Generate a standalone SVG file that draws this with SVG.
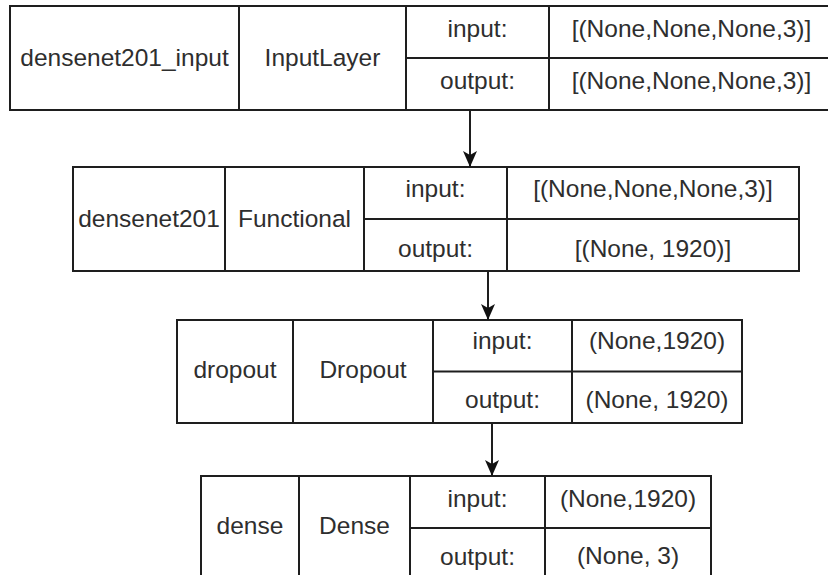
<svg xmlns="http://www.w3.org/2000/svg" width="828" height="575" viewBox="0 0 828 575">
  <style>
    .cell { fill: #ffffff; stroke: #1e1e1e; stroke-width: 2; }
    .div { stroke: #1e1e1e; stroke-width: 2; fill: none; }
    .lbl { font-family: "Liberation Sans", Arial, sans-serif; font-size: 24.5px; fill: #2e2e2e; text-anchor: middle; }
    .edge { stroke: #1e1e1e; stroke-width: 2; fill: none; marker-end: url(#arrow); }
  </style>
  <defs>
    <marker id="arrow" viewBox="0 0 16 14" refX="15" refY="7" markerWidth="16" markerHeight="14" markerUnits="userSpaceOnUse" orient="auto">
      <path d="M0,0 L16,7 L0,14 L4,7 Z" fill="#111111"/>
    </marker>
  </defs>
  <rect width="828" height="575" fill="#ffffff"/>

  <!-- input layer -->
  <g id="densenet201_input">
    <rect class="cell" x="10" y="6" width="830" height="104"/>
    <path class="div" d="M239,6 V110 M406,6 V110 M549,6 V110 M406,58 H840"/>
    <text class="lbl" x="124.5" y="66">densenet201_input</text>
    <text class="lbl" x="322.5" y="66">InputLayer</text>
    <text class="lbl" x="477.5" y="37">input:</text>
    <text class="lbl" x="477.5" y="89">output:</text>
    <text class="lbl" x="691.5" y="37">[(None,None,None,3)]</text>
    <text class="lbl" x="691.5" y="89">[(None,None,None,3)]</text>
  </g>

  <!-- backbone -->
  <g id="densenet201">
    <rect class="cell" x="73" y="167" width="726" height="104"/>
    <path class="div" d="M225,167 V271 M364,167 V271 M507,167 V271 M364,219 H799"/>
    <text class="lbl" x="149" y="227">densenet201</text>
    <text class="lbl" x="294.5" y="227">Functional</text>
    <text class="lbl" x="435.5" y="197">input:</text>
    <text class="lbl" x="435.5" y="257">output:</text>
    <text class="lbl" x="653" y="197">[(None,None,None,3)]</text>
    <text class="lbl" x="653" y="257">[(None, 1920)]</text>
  </g>

  <!-- dropout -->
  <g id="dropout">
    <rect class="cell" x="177" y="320" width="565" height="103"/>
    <path class="div" d="M293,320 V423 M433,320 V423 M572,320 V423 M433,371.5 H742"/>
    <text class="lbl" x="235" y="378">dropout</text>
    <text class="lbl" x="363" y="378">Dropout</text>
    <text class="lbl" x="502.5" y="349">input:</text>
    <text class="lbl" x="502.5" y="408">output:</text>
    <text class="lbl" x="657" y="349">(None,1920)</text>
    <text class="lbl" x="657" y="408">(None, 1920)</text>
  </g>

  <!-- dense -->
  <g id="dense">
    <rect class="cell" x="201" y="476" width="510" height="104"/>
    <path class="div" d="M299,476 V580 M410,476 V580 M545,476 V580 M410,528 H711"/>
    <text class="lbl" x="250" y="534">dense</text>
    <text class="lbl" x="354.5" y="534">Dense</text>
    <text class="lbl" x="477.5" y="507">input:</text>
    <text class="lbl" x="477.5" y="565">output:</text>
    <text class="lbl" x="628" y="507">(None,1920)</text>
    <text class="lbl" x="628" y="564">(None, 3)</text>
  </g>

  <!-- connectors -->
  <g id="edges">
    <path class="edge" d="M470,110 V166"/>
    <path class="edge" d="M488,271 V319"/>
    <path class="edge" d="M492,423 V475"/>
  </g>
</svg>
